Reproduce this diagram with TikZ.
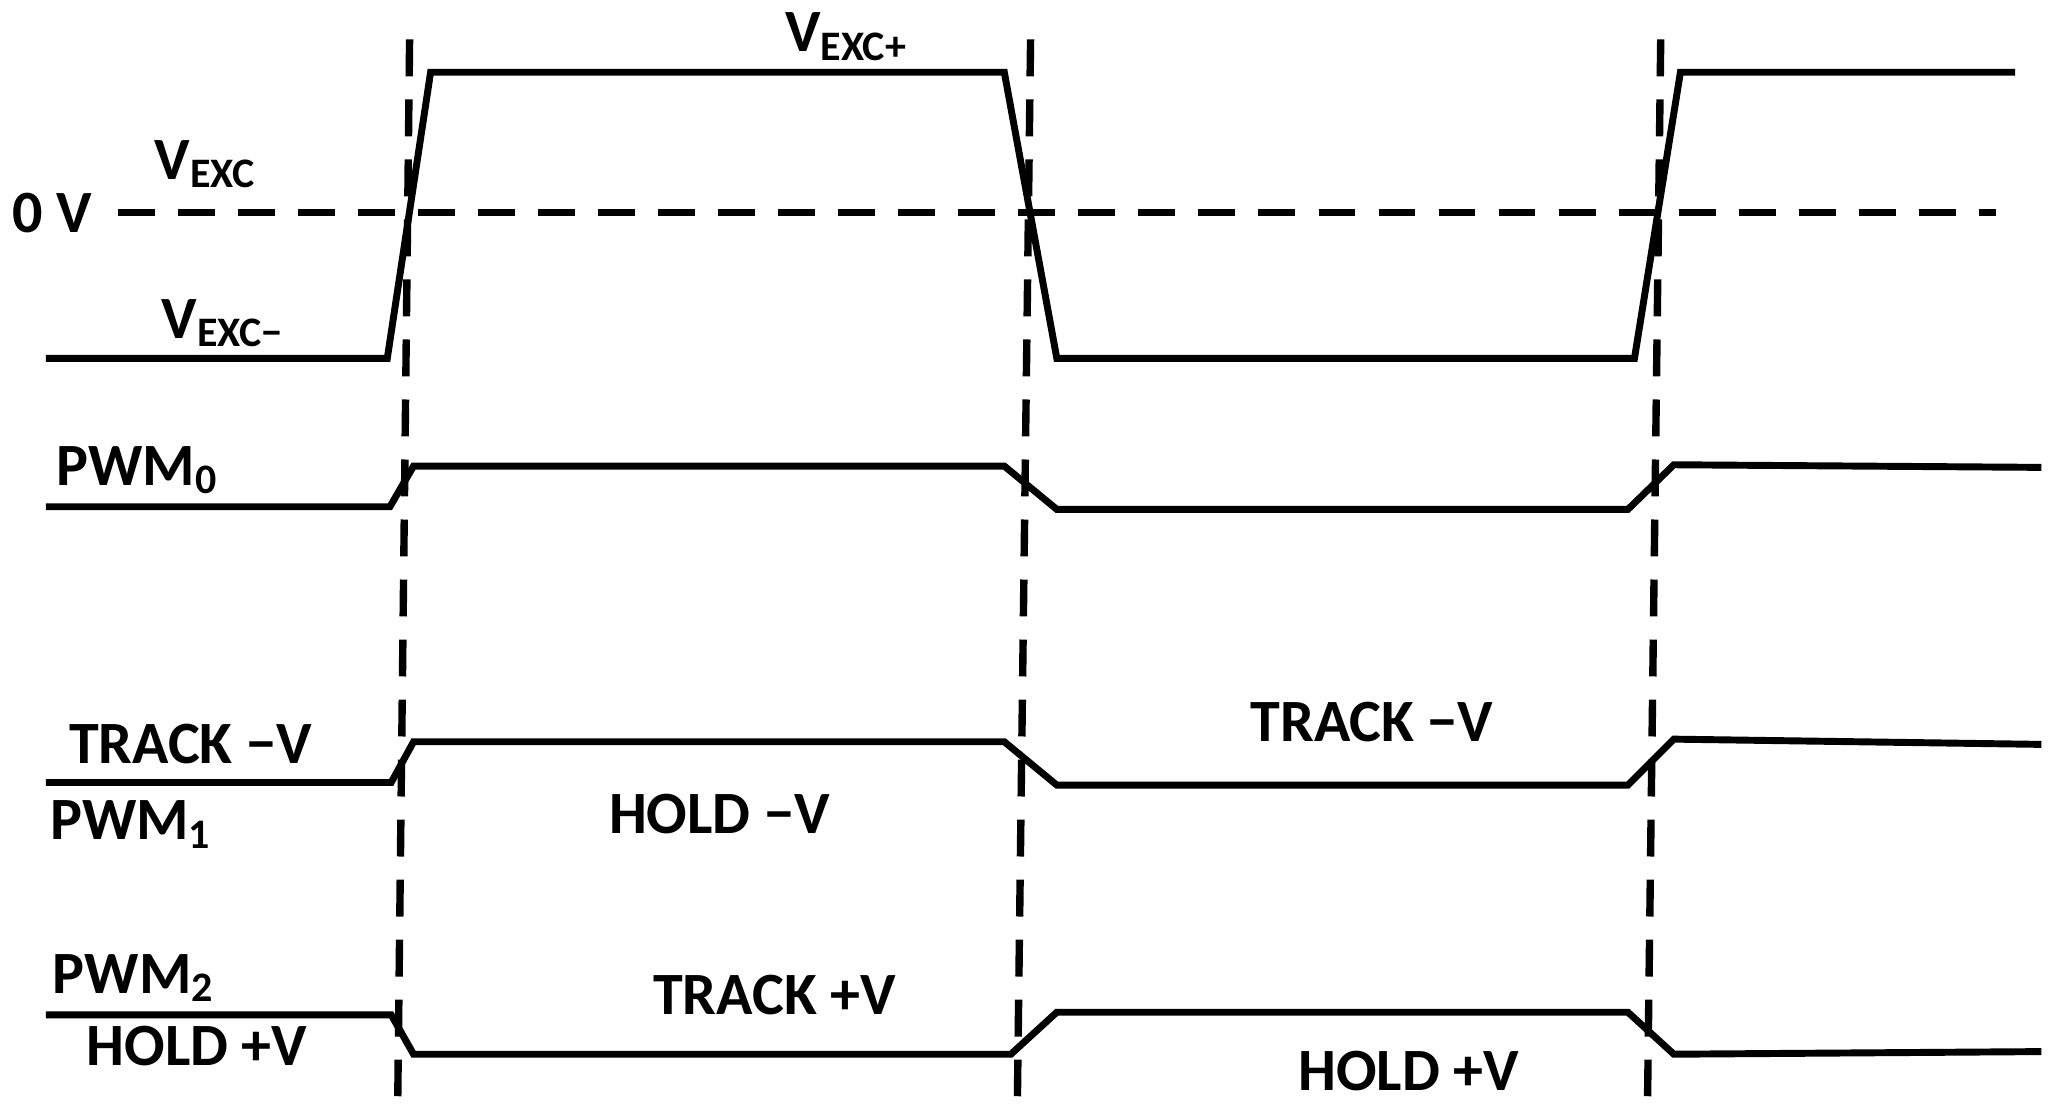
\documentclass[tikz,border=0pt]{standalone}
\usepackage{fontspec}
\setmainfont{Carlito}
\begin{document}
\begin{tikzpicture}[x=0.01cm,y=-0.01cm,
  wave/.style={line width=1.5pt},
  dashln/.style={line width=1.6pt,dash pattern=on 8pt off 5pt},
  lbl/.style={font=\fontsize{13}{15}\bfseries\selectfont,inner sep=0pt}]
\useasboundingbox (0,0) rectangle (1560,841);
\draw[dashln] (312,30) -- (303,835);
\draw[dashln] (785,30) -- (775,835);
\draw[dashln] (1265,30) -- (1255,835);
\draw[dashln] (90,162) -- (1520,162);
\draw[wave] (35,273)--(295,273)--(328,55)--(765,55)--(805,273)--(1245,273)--(1280,55)--(1535,55);
\draw[wave] (35,386)--(297,386)--(315,355)--(765,355)--(805,388)--(1240,388)--(1275,354)--(1555,356);
\draw[wave] (35,596)--(298,596)--(315,565)--(765,565)--(805,598)--(1240,598)--(1275,563)--(1555,567);
\draw[wave] (35,773)--(298,773)--(315,803)--(770,803)--(805,771)--(1240,771)--(1275,803)--(1555,801);
\node[lbl] (z) at (40,162) {0 V};
\node[lbl] (v) at (157,125) {V\textsubscript{EXC}};
\node[lbl] (vm) at (170,246) {V\textsubscript{EXC−}};
\node[lbl] (vp) at (645,28) {V\textsubscript{EXC+}};
\node[lbl] (p0) at (105,358) {PWM\textsubscript{0}};
\node[lbl] (t1) at (145,567) {TRACK −V};
\node[lbl] (p1) at (100,628) {PWM\textsubscript{1}};
\node[lbl] (h1) at (548,620) {HOLD −V};
\node[lbl] (t2) at (1045,550) {TRACK −V};
\node[lbl] (p2) at (102,745) {PWM\textsubscript{2}};
\node[lbl] (h2) at (150,797) {HOLD +V};
\node[lbl] (t3) at (590,758) {TRACK +V};
\node[lbl] (h3) at (1073,816) {HOLD +V};
\end{tikzpicture}
\end{document}
